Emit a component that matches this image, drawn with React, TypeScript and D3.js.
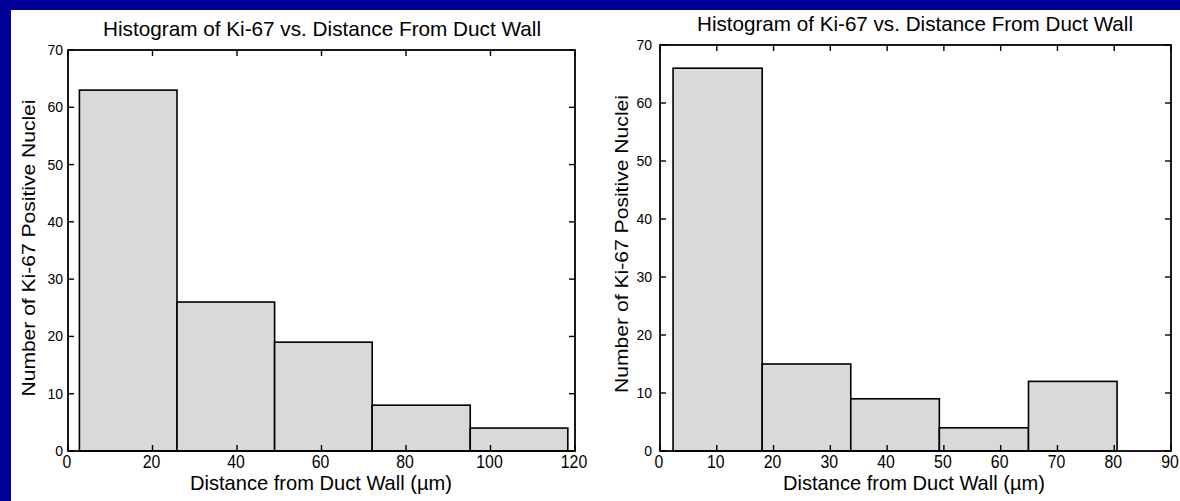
import React from 'react';
import * as d3 from 'd3';

// Labels shared by both panels
const TITLE = 'Histogram of Ki-67 vs. Distance From Duct Wall';
const X_LABEL = 'Distance from Duct Wall (\u00b5m)';
const Y_LABEL = 'Number of Ki-67 Positive Nuclei';

// Left histogram: bin edges (µm) and counts per bin
const leftBinEdges = [2.7, 25.8, 48.9, 72.0, 95.2, 118.3];
const leftCounts = [63, 26, 19, 8, 4];
const leftXTicks = [0, 20, 40, 60, 80, 100, 120];

// Right histogram: bin edges (µm) and counts per bin
const rightBinEdges = [2.3, 18.0, 33.6, 49.2, 64.9, 80.5];
const rightCounts = [66, 15, 9, 4, 12];
const rightXTicks = [0, 10, 20, 30, 40, 50, 60, 70, 80, 90];

const yTicks = [0, 10, 20, 30, 40, 50, 60, 70];

const FONT = '"Liberation Sans", Arial, Helvetica, sans-serif';

type Frame = { left: number; right: number; top: number; bottom: number };

type HistProps = {
  edges: number[];
  counts: number[];
  xTicks: number[];
  frame: Frame;
  titleX: number;
  titleY: number;
  titleLen: number;
  xLabelX: number;
  xLabelLen: number;
  yLabelX: number;
  yLabelY: number;
  yLabelLen: number;
  yLabelSize: number;
  yTickGap: number;
};

function Histogram(p: HistProps) {
  const { frame } = p;
  const x = d3
    .scaleLinear()
    .domain([p.xTicks[0], p.xTicks[p.xTicks.length - 1]])
    .range([frame.left, frame.right]);
  const y = d3
    .scaleLinear()
    .domain([yTicks[0], yTicks[yTicks.length - 1]])
    .range([frame.bottom, frame.top]);
  const tick = 6;

  const bins = p.counts.map((c, i) => ({ x0: p.edges[i], x1: p.edges[i + 1], c }));

  return (
    <g>
      {/* bars */}
      {bins.map((b, i) => (
        <rect
          key={i}
          x={x(b.x0)}
          y={y(b.c)}
          width={x(b.x1) - x(b.x0)}
          height={y(0) - y(b.c)}
          fill="#d9d9d9"
          stroke="#000"
          strokeWidth={1.6}
        />
      ))}

      {/* x ticks, bottom and top, pointing inward */}
      {p.xTicks.map((t) => (
        <g key={'x' + t}>
          <line x1={x(t)} x2={x(t)} y1={frame.bottom} y2={frame.bottom - tick} stroke="#000" strokeWidth={1.4} />
          <line x1={x(t)} x2={x(t)} y1={frame.top} y2={frame.top + tick} stroke="#000" strokeWidth={1.4} />
          <text
            transform={`translate(${x(t) - 1},${frame.bottom + 17}) scale(0.88,1)`}
            textAnchor="middle"
            fontSize={18}
            fontFamily={FONT}
            fill="#000"
          >
            {t}
          </text>
        </g>
      ))}

      {/* y ticks, left and right, pointing inward */}
      {yTicks.map((t) => (
        <g key={'y' + t}>
          <line x1={frame.left} x2={frame.left + tick} y1={y(t)} y2={y(t)} stroke="#000" strokeWidth={1.4} />
          <line x1={frame.right} x2={frame.right - tick} y1={y(t)} y2={y(t)} stroke="#000" strokeWidth={1.4} />
          <text
            x={frame.left - p.yTickGap}
            y={y(t) + 5}
            textAnchor="end"
            fontSize={14}
            fontFamily={FONT}
            fill="#000"
          >
            {t}
          </text>
        </g>
      ))}

      {/* axes box */}
      <rect
        x={frame.left}
        y={frame.top}
        width={frame.right - frame.left}
        height={frame.bottom - frame.top}
        fill="none"
        stroke="#000"
        strokeWidth={1.8}
      />

      {/* title */}
      <text
        x={p.titleX}
        y={p.titleY}
        textAnchor="middle"
        fontSize={21}
        fontFamily={FONT}
        fill="#000"
        textLength={p.titleLen}
        lengthAdjust="spacingAndGlyphs"
      >
        {TITLE}
      </text>

      {/* x label */}
      <text
        x={p.xLabelX}
        y={frame.bottom + 39}
        textAnchor="middle"
        fontSize={21}
        fontFamily={FONT}
        fill="#000"
        textLength={p.xLabelLen}
        lengthAdjust="spacingAndGlyphs"
      >
        {X_LABEL}
      </text>

      {/* y label */}
      <text
        transform={`translate(${p.yLabelX},${p.yLabelY}) rotate(-90)`}
        textAnchor="middle"
        fontSize={p.yLabelSize}
        fontFamily={FONT}
        fill="#000"
        textLength={p.yLabelLen}
        lengthAdjust="spacingAndGlyphs"
      >
        {Y_LABEL}
      </text>
    </g>
  );
}

export default function App() {
  return (
    <svg
      width={1180}
      height={501}
      viewBox="0 0 1180 501"
      style={{ position: 'absolute', left: 0, top: 0, display: 'block' }}
    >
      <rect x={0} y={0} width={1180} height={501} fill="#000099" />
      <rect x={11} y={10} width={1169} height={491} fill="#ffffff" />

      <Histogram
        edges={leftBinEdges}
        counts={leftCounts}
        xTicks={leftXTicks}
        frame={{ left: 68, right: 575, top: 50, bottom: 451 }}
        titleX={322}
        titleY={36}
        titleLen={438}
        xLabelX={321}
        xLabelLen={262}
        yLabelX={35}
        yLabelY={248}
        yLabelLen={297}
        yLabelSize={18}
        yTickGap={5}
      />

      <Histogram
        edges={rightBinEdges}
        counts={rightCounts}
        xTicks={rightXTicks}
        frame={{ left: 660, right: 1171, top: 45, bottom: 451 }}
        titleX={915}
        titleY={31}
        titleLen={436}
        xLabelX={914}
        xLabelLen={262}
        yLabelX={628}
        yLabelY={244}
        yLabelLen={298}
        yLabelSize={19}
        yTickGap={8}
      />
    </svg>
  );
}
